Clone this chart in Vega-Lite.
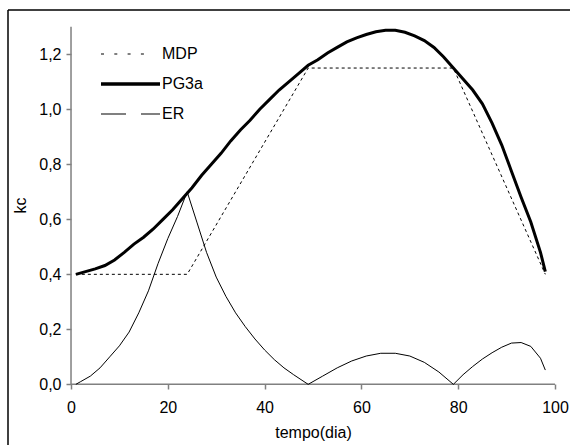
{
  "$schema": "https://vega.github.io/schema/vega-lite/v6.json",
  "width": 562,
  "height": 435,
  "autosize": "none",
  "padding": {"left": 8, "top": 10, "right": 0, "bottom": 0},
  "background": "white",
  "config": {"view": {"stroke": null}, "font": "Liberation Sans"},
  "datasets": {
    "curves": [
      {"dia": 1, "kc": 0.40, "serie": "MDP"},
      {"dia": 24, "kc": 0.40, "serie": "MDP"},
      {"dia": 49, "kc": 1.15, "serie": "MDP"},
      {"dia": 79, "kc": 1.15, "serie": "MDP"},
      {"dia": 98, "kc": 0.40, "serie": "MDP"},
      {"dia": 1, "kc": 0.40, "serie": "PG3a"},
      {"dia": 3, "kc": 0.41, "serie": "PG3a"},
      {"dia": 5, "kc": 0.42, "serie": "PG3a"},
      {"dia": 7, "kc": 0.432, "serie": "PG3a"},
      {"dia": 9, "kc": 0.452, "serie": "PG3a"},
      {"dia": 11, "kc": 0.48, "serie": "PG3a"},
      {"dia": 13, "kc": 0.51, "serie": "PG3a"},
      {"dia": 15, "kc": 0.535, "serie": "PG3a"},
      {"dia": 17, "kc": 0.565, "serie": "PG3a"},
      {"dia": 19, "kc": 0.60, "serie": "PG3a"},
      {"dia": 21, "kc": 0.635, "serie": "PG3a"},
      {"dia": 23, "kc": 0.675, "serie": "PG3a"},
      {"dia": 25, "kc": 0.715, "serie": "PG3a"},
      {"dia": 27, "kc": 0.76, "serie": "PG3a"},
      {"dia": 29, "kc": 0.80, "serie": "PG3a"},
      {"dia": 31, "kc": 0.84, "serie": "PG3a"},
      {"dia": 33, "kc": 0.885, "serie": "PG3a"},
      {"dia": 35, "kc": 0.925, "serie": "PG3a"},
      {"dia": 37, "kc": 0.96, "serie": "PG3a"},
      {"dia": 39, "kc": 1.00, "serie": "PG3a"},
      {"dia": 41, "kc": 1.035, "serie": "PG3a"},
      {"dia": 43, "kc": 1.07, "serie": "PG3a"},
      {"dia": 45, "kc": 1.10, "serie": "PG3a"},
      {"dia": 47, "kc": 1.13, "serie": "PG3a"},
      {"dia": 49, "kc": 1.16, "serie": "PG3a"},
      {"dia": 51, "kc": 1.18, "serie": "PG3a"},
      {"dia": 53, "kc": 1.205, "serie": "PG3a"},
      {"dia": 55, "kc": 1.225, "serie": "PG3a"},
      {"dia": 57, "kc": 1.245, "serie": "PG3a"},
      {"dia": 59, "kc": 1.26, "serie": "PG3a"},
      {"dia": 61, "kc": 1.272, "serie": "PG3a"},
      {"dia": 63, "kc": 1.282, "serie": "PG3a"},
      {"dia": 65, "kc": 1.287, "serie": "PG3a"},
      {"dia": 67, "kc": 1.287, "serie": "PG3a"},
      {"dia": 69, "kc": 1.28, "serie": "PG3a"},
      {"dia": 71, "kc": 1.267, "serie": "PG3a"},
      {"dia": 73, "kc": 1.25, "serie": "PG3a"},
      {"dia": 75, "kc": 1.225, "serie": "PG3a"},
      {"dia": 77, "kc": 1.19, "serie": "PG3a"},
      {"dia": 79, "kc": 1.15, "serie": "PG3a"},
      {"dia": 81, "kc": 1.11, "serie": "PG3a"},
      {"dia": 83, "kc": 1.07, "serie": "PG3a"},
      {"dia": 85, "kc": 1.02, "serie": "PG3a"},
      {"dia": 87, "kc": 0.95, "serie": "PG3a"},
      {"dia": 89, "kc": 0.87, "serie": "PG3a"},
      {"dia": 91, "kc": 0.775, "serie": "PG3a"},
      {"dia": 93, "kc": 0.68, "serie": "PG3a"},
      {"dia": 95, "kc": 0.59, "serie": "PG3a"},
      {"dia": 97, "kc": 0.48, "serie": "PG3a"},
      {"dia": 98, "kc": 0.41, "serie": "PG3a"},
      {"dia": 1, "kc": 0.0, "serie": "ER"},
      {"dia": 2, "kc": 0.01, "serie": "ER"},
      {"dia": 4, "kc": 0.03, "serie": "ER"},
      {"dia": 6, "kc": 0.06, "serie": "ER"},
      {"dia": 8, "kc": 0.10, "serie": "ER"},
      {"dia": 10, "kc": 0.14, "serie": "ER"},
      {"dia": 12, "kc": 0.19, "serie": "ER"},
      {"dia": 14, "kc": 0.26, "serie": "ER"},
      {"dia": 16, "kc": 0.34, "serie": "ER"},
      {"dia": 18, "kc": 0.44, "serie": "ER"},
      {"dia": 20, "kc": 0.53, "serie": "ER"},
      {"dia": 22, "kc": 0.61, "serie": "ER"},
      {"dia": 24, "kc": 0.70, "serie": "ER"},
      {"dia": 26, "kc": 0.59, "serie": "ER"},
      {"dia": 28, "kc": 0.48, "serie": "ER"},
      {"dia": 30, "kc": 0.39, "serie": "ER"},
      {"dia": 32, "kc": 0.32, "serie": "ER"},
      {"dia": 34, "kc": 0.26, "serie": "ER"},
      {"dia": 36, "kc": 0.21, "serie": "ER"},
      {"dia": 38, "kc": 0.165, "serie": "ER"},
      {"dia": 40, "kc": 0.125, "serie": "ER"},
      {"dia": 42, "kc": 0.09, "serie": "ER"},
      {"dia": 44, "kc": 0.06, "serie": "ER"},
      {"dia": 46, "kc": 0.035, "serie": "ER"},
      {"dia": 49, "kc": 0.0, "serie": "ER"},
      {"dia": 52, "kc": 0.03, "serie": "ER"},
      {"dia": 55, "kc": 0.06, "serie": "ER"},
      {"dia": 58, "kc": 0.085, "serie": "ER"},
      {"dia": 61, "kc": 0.103, "serie": "ER"},
      {"dia": 64, "kc": 0.113, "serie": "ER"},
      {"dia": 67, "kc": 0.113, "serie": "ER"},
      {"dia": 70, "kc": 0.103, "serie": "ER"},
      {"dia": 73, "kc": 0.08, "serie": "ER"},
      {"dia": 76, "kc": 0.045, "serie": "ER"},
      {"dia": 79, "kc": 0.0, "serie": "ER"},
      {"dia": 81, "kc": 0.035, "serie": "ER"},
      {"dia": 83, "kc": 0.065, "serie": "ER"},
      {"dia": 85, "kc": 0.092, "serie": "ER"},
      {"dia": 87, "kc": 0.115, "serie": "ER"},
      {"dia": 89, "kc": 0.135, "serie": "ER"},
      {"dia": 91, "kc": 0.15, "serie": "ER"},
      {"dia": 93, "kc": 0.152, "serie": "ER"},
      {"dia": 95, "kc": 0.138, "serie": "ER"},
      {"dia": 97, "kc": 0.095, "serie": "ER"},
      {"dia": 98, "kc": 0.052, "serie": "ER"}
    ]
  },
  "layer": [
    {
      "data": {"values": [{}]},
      "mark": {"type": "rule", "color": "black", "strokeWidth": 1.5},
      "encoding": {
        "x": {"datum": -13.02, "type": "quantitative"},
        "y": {"datum": -0.2205, "type": "quantitative"},
        "y2": {"datum": 1.361}
      }
    },
    {
      "data": {"values": [{}]},
      "mark": {"type": "rule", "color": "black", "strokeWidth": 1.5},
      "encoding": {
        "x": {"datum": -13.02, "type": "quantitative"},
        "x2": {"datum": 103.1},
        "y": {"datum": 1.361, "type": "quantitative"}
      }
    },
    {
      "data": {"values": [{}]},
      "mark": {"type": "rule", "color": "#808080", "strokeWidth": 1.5},
      "encoding": {
        "x": {"datum": 0, "type": "quantitative"},
        "x2": {"datum": 100},
        "y": {"datum": 0, "type": "quantitative"}
      }
    },
    {
      "data": {"values": [{}]},
      "mark": {"type": "rule", "color": "#808080", "strokeWidth": 1.5},
      "encoding": {
        "x": {"datum": 0, "type": "quantitative"},
        "y": {"datum": 0, "type": "quantitative"},
        "y2": {"datum": 1.3}
      }
    },
    {
      "data": {"name": "curves"},
      "mark": {"type": "line", "clip": false, "opacity": 0},
      "encoding": {
        "x": {
          "field": "dia",
          "type": "quantitative",
          "scale": {"domain": [-13.02, 103.1], "nice": false, "zero": false},
          "axis": {
            "orient": "bottom",
            "offset": -61,
            "values": [0, 20, 40, 60, 80, 100],
            "domain": false,
            "grid": false,
            "tickColor": "#808080",
            "tickSize": 5,
            "tickWidth": 1.5,
            "labelFontSize": 16,
            "labelColor": "black",
            "labelPadding": 10,
            "labelFlush": false,
            "title": "tempo(dia)",
            "titleFontSize": 16,
            "titleFontWeight": "normal",
            "titleColor": "black",
            "titleX": 305,
            "titleY": 48,
            "titleBaseline": "middle",
            "titleAlign": "center"
          }
        },
        "y": {
          "field": "kc",
          "type": "quantitative",
          "scale": {"domain": [-0.2205, 1.361], "nice": false, "zero": false},
          "axis": {
            "orient": "left",
            "offset": -63,
            "values": [0, 0.2, 0.4, 0.6, 0.8, 1, 1.2],
            "labelExpr": "replace(format(datum.value, '.1f'), '.', ',')",
            "domain": false,
            "grid": false,
            "tickColor": "#808080",
            "tickSize": 5,
            "tickWidth": 1.5,
            "labelFontSize": 16,
            "labelColor": "black",
            "labelPadding": 5,
            "labelFlush": false,
            "title": "kc",
            "titleFontSize": 16,
            "titleFontWeight": "normal",
            "titleColor": "black",
            "titleX": -51,
            "titleY": 195,
            "titleAngle": 270,
            "titleBaseline": "middle",
            "titleAlign": "center"
          }
        },
        "color": {
          "field": "serie",
          "type": "nominal",
          "scale": {"domain": ["MDP", "PG3a", "ER"], "range": ["black", "black", "#808080"]},
          "legend": {
            "orient": "none",
            "legendX": 114.5,
            "legendY": 36,
            "title": null,
            "padding": 0,
            "symbolType": "M-2.107,0H2.107",
            "symbolSize": 784,
            "symbolFillColor": "transparent",
            "symbolOpacity": 1,
            "symbolDash": {"expr": "datum.value === 'ER' ? [25, 15] : datum.value === 'MDP' ? [3, 10.3, 3, 10.3, 3, 10.3, 3, 40] : [1, 0]"},
            "symbolStrokeWidth": {"expr": "datum.value === 'PG3a' ? 3.5 : datum.value === 'ER' ? 2 : 1.2"},
            "labelFontSize": 16,
            "labelColor": "black",
            "labelOffset": 23.5,
            "rowPadding": 14
          }
        }
      }
    },
    {
      "data": {"name": "curves"},
      "transform": [{"filter": "datum.serie === 'ER'"}],
      "mark": {"type": "line", "clip": false, "color": "black", "strokeWidth": 1},
      "encoding": {
        "x": {"field": "dia", "type": "quantitative"},
        "y": {"field": "kc", "type": "quantitative"}
      }
    },
    {
      "data": {"name": "curves"},
      "transform": [{"filter": "datum.serie === 'MDP'"}],
      "mark": {"type": "line", "clip": false, "color": "black", "strokeWidth": 1, "strokeDash": [3, 3]},
      "encoding": {
        "x": {"field": "dia", "type": "quantitative"},
        "y": {"field": "kc", "type": "quantitative"}
      }
    },
    {
      "data": {"name": "curves"},
      "transform": [{"filter": "datum.serie === 'PG3a'"}],
      "mark": {"type": "line", "clip": false, "color": "black", "strokeWidth": 3},
      "encoding": {
        "x": {"field": "dia", "type": "quantitative"},
        "y": {"field": "kc", "type": "quantitative"}
      }
    }
  ]
}
